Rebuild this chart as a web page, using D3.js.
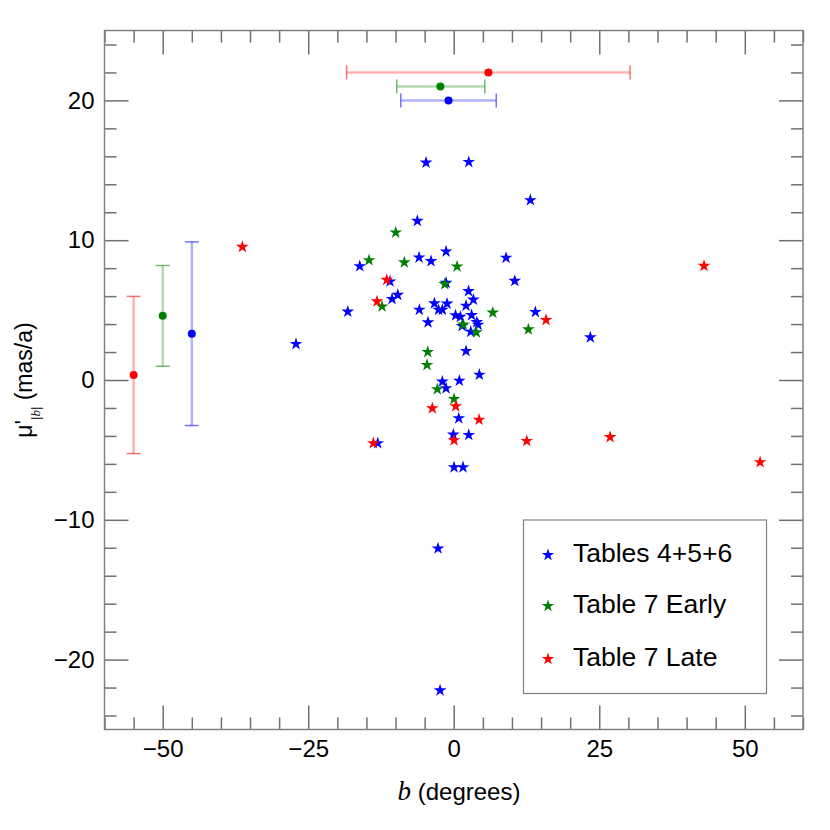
<!DOCTYPE html>
<html>
<head>
<meta charset="utf-8">
<script src="https://cdn.jsdelivr.net/npm/d3@7"></script>
<style>
  body { margin: 0; background: #fff; }
  text { font-family: "Liberation Sans", Arial, Helvetica, sans-serif; fill: #000; }
</style>
</head>
<body>
<svg id="chart" width="830" height="830"></svg>
<script>
// star points, b (degrees) vs mu' (mas/a)
var tablesB  = [-4.76, 2.58, 13.16, -6.25, -16.15, -5.96, -3.9, -1.32, 8.99, 10.48, -10.95, -1.32,
                -9.62, -10.6, -18.21, -5.91, -3.33, -1.15, -2.61, -1.96, 2.54, 3.37, 2.11, 0.31,
                1.13, 3.06, 14.02, -4.42, 1.43, 3.95, 4.18, 2.92, 2.11, 4.4, -1.96, 0.96, -1.32,
                0.86, -0.07, 2.58, -13.06, 0.05, 1.6, -27.1, 23.47, -2.7, -2.35];
var tablesMu = [15.55, 15.59, 12.86, 11.38, 8.14, 8.76, 8.5, 9.19, 8.74, 7.09, 7.05, 6.95,
                6.09, 5.79, 4.89, 5.02, 5.48, 5.46, 5.02, 5.02, 6.36, 5.75, 5.31, 4.62,
                4.52, 4.64, 4.86, 4.12, 3.86, 4.14, 3.95, 3.45, 2.07, 0.38, -0.12, -0.05, -0.59,
                -2.74, -3.91, -3.93, -4.52, -6.24, -6.24, 2.57, 3.05, -12.05, -22.2];

var earlyB  = [-9.97, -14.55, -8.49, 0.57, -1.55, -12.32, 6.7, 1.65, 3.88, 12.82, -4.47, -4.59, -2.82, 0.05];
var earlyMu = [10.55, 8.57, 8.41, 8.12, 6.86, 5.26, 4.82, 3.96, 3.41, 3.62, 2.0, 1.07, -0.66, -1.36];

var lateB  = [-36.32, -11.51, -13.18, 15.86, 43.0, -3.68, 0.34, 4.35, 0.05, -13.81, 12.54, 26.86, 52.63];
var lateMu = [9.52, 7.16, 5.62, 4.29, 8.16, -2.02, -1.88, -2.84, -4.31, -4.52, -4.36, -4.09, -5.88];

// mean values with spread, one per series
var seriesNames  = ["Tables 4+5+6", "Table 7 Early", "Table 7 Late"];
var seriesColors = ["#0000ff", "#008000", "#ff0000"];
// horizontal bars along the top (spread in b)
var hbarMu  = [20, 21, 22];
var hbarMid = [-0.9, -2.3, 5.95];
var hbarLo  = [-9.1, -9.8, -18.4];
var hbarHi  = [7.3, 5.34, 30.3];
// vertical bars on the left (spread in mu')
var vbarB   = [-45, -50, -55];
var vbarMid = [3.31, 4.6, 0.36];
var vbarLo  = [-3.26, 0.98, -5.26];
var vbarHi  = [9.88, 8.19, 5.98];

var xMajor = [-50, -25, 0, 25, 50];
var yMajor = [-20, -10, 0, 10, 20];

var svg = d3.select("#chart");
// note: don't call these "top" - clashes with window.top
var plotL = 104.5, plotR = 803, plotT = 30.5, plotB = 729.5;

var x = d3.scaleLinear().domain([-60, 60]).range([plotL, plotR]);
var y = d3.scaleLinear().domain([-25, 25]).range([plotB, plotT]);

var xMinor = d3.range(-60, 61, 5).filter(function (v) { return xMajor.indexOf(v) < 0; });
var yMinor = d3.range(-24, 25, 2).filter(function (v) { return yMajor.indexOf(v) < 0; });

var fmt = function (d) { return d3.format("d")(d); };

function styleAxis(g) {
    g.select(".domain").remove();
    g.selectAll(".tick line").attr("stroke", "#707070").attr("stroke-width", 1.5);
    g.selectAll(".tick text").style("font-size", "24px")
        .style("font-family", '"Liberation Sans", Arial, sans-serif');
}

// bottom / top
svg.append("g").attr("transform", "translate(0," + plotB + ")")
    .call(d3.axisBottom(x).tickValues(xMajor).tickSize(-24).tickPadding(10).tickFormat(fmt)).call(styleAxis);
svg.append("g").attr("transform", "translate(0," + plotB + ")")
    .call(d3.axisBottom(x).tickValues(xMinor).tickSize(-12).tickFormat("")).call(styleAxis);
svg.append("g").attr("transform", "translate(0," + plotT + ")")
    .call(d3.axisTop(x).tickValues(xMajor).tickSize(-24).tickFormat("")).call(styleAxis);
svg.append("g").attr("transform", "translate(0," + plotT + ")")
    .call(d3.axisTop(x).tickValues(xMinor).tickSize(-12).tickFormat("")).call(styleAxis);

// left / right
svg.append("g").attr("transform", "translate(" + plotL + ",0)")
    .call(d3.axisLeft(y).tickValues(yMajor).tickSize(-24).tickPadding(10).tickFormat(fmt)).call(styleAxis);
svg.append("g").attr("transform", "translate(" + plotL + ",0)")
    .call(d3.axisLeft(y).tickValues(yMinor).tickSize(-12).tickFormat("")).call(styleAxis);
svg.append("g").attr("transform", "translate(" + plotR + ",0)")
    .call(d3.axisRight(y).tickValues(yMajor).tickSize(-24).tickFormat("")).call(styleAxis);
svg.append("g").attr("transform", "translate(" + plotR + ",0)")
    .call(d3.axisRight(y).tickValues(yMinor).tickSize(-12).tickFormat("")).call(styleAxis);

// frame
svg.append("rect")
    .attr("x", plotL).attr("y", plotT)
    .attr("width", plotR - plotL).attr("height", plotB - plotT)
    .attr("fill", "none").attr("stroke", "#808080").attr("stroke-width", 1.5);

// error bars
var capHalf = 7;
var hbars = svg.append("g").selectAll("g")
    .data(d3.range(3))
    .enter().append("g");
hbars.append("line")
    .attr("x1", function (i) { return x(hbarLo[i]); })
    .attr("x2", function (i) { return x(hbarHi[i]); })
    .attr("y1", function (i) { return y(hbarMu[i]); })
    .attr("y2", function (i) { return y(hbarMu[i]); })
    .attr("stroke", function (i) { return seriesColors[i]; })
    .attr("stroke-opacity", 0.3).attr("stroke-width", 2.5);
hbars.selectAll(".cap")
    .data(function (i) { return [[hbarLo[i], i], [hbarHi[i], i]]; })
    .enter().append("line").attr("class", "cap")
    .attr("x1", function (d) { return x(d[0]); })
    .attr("x2", function (d) { return x(d[0]); })
    .attr("y1", function (d) { return y(hbarMu[d[1]]) - capHalf; })
    .attr("y2", function (d) { return y(hbarMu[d[1]]) + capHalf; })
    .attr("stroke", function (d) { return seriesColors[d[1]]; })
    .attr("stroke-opacity", 0.55).attr("stroke-width", 1.5);
hbars.append("circle")
    .attr("cx", function (i) { return x(hbarMid[i]); })
    .attr("cy", function (i) { return y(hbarMu[i]); })
    .attr("r", 4)
    .attr("fill", function (i) { return seriesColors[i]; });

var vbars = svg.append("g").selectAll("g")
    .data(d3.range(3))
    .enter().append("g");
vbars.append("line")
    .attr("x1", function (i) { return x(vbarB[i]); })
    .attr("x2", function (i) { return x(vbarB[i]); })
    .attr("y1", function (i) { return y(vbarLo[i]); })
    .attr("y2", function (i) { return y(vbarHi[i]); })
    .attr("stroke", function (i) { return seriesColors[i]; })
    .attr("stroke-opacity", 0.3).attr("stroke-width", 2.5);
vbars.selectAll(".cap")
    .data(function (i) { return [[vbarLo[i], i], [vbarHi[i], i]]; })
    .enter().append("line").attr("class", "cap")
    .attr("x1", function (d) { return x(vbarB[d[1]]) - capHalf; })
    .attr("x2", function (d) { return x(vbarB[d[1]]) + capHalf; })
    .attr("y1", function (d) { return y(d[0]); })
    .attr("y2", function (d) { return y(d[0]); })
    .attr("stroke", function (d) { return seriesColors[d[1]]; })
    .attr("stroke-opacity", 0.55).attr("stroke-width", 1.5);
vbars.append("circle")
    .attr("cx", function (i) { return x(vbarB[i]); })
    .attr("cy", function (i) { return y(vbarMid[i]); })
    .attr("r", 4)
    .attr("fill", function (i) { return seriesColors[i]; });

// stars
var star = d3.symbol().type(d3.symbolStar).size(50);
var series = [[tablesB, tablesMu], [earlyB, earlyMu], [lateB, lateMu]];
series.forEach(function (s, k) {
    svg.append("g").selectAll("path")
        .data(d3.range(s[0].length))
        .enter().append("path")
        .attr("d", star)
        .attr("transform", function (i) { return "translate(" + x(s[0][i]) + "," + y(s[1][i]) + ")"; })
        .attr("fill", seriesColors[k]);
});

// legend
var legend = svg.append("g");
legend.append("rect")
    .attr("x", 523.5).attr("y", 520).attr("width", 243).attr("height", 173.5)
    .attr("fill", "#fff").attr("stroke", "#808080").attr("stroke-width", 1.2);
var rowY = [555, 606, 659];
seriesNames.forEach(function (name, i) {
    legend.append("path").attr("d", d3.symbol().type(d3.symbolStar).size(48))
        .attr("transform", "translate(548," + rowY[i] + ")")
        .attr("fill", seriesColors[i]);
    legend.append("text")
        .attr("x", 573).attr("y", rowY[i] + 6.5)
        .style("font-size", "26.5px")
        .text(name);
});

// axis titles
var xt = svg.append("text")
    .attr("x", 459).attr("y", 800)
    .attr("text-anchor", "middle")
    .style("font-size", "24px");
xt.append("tspan")
    .style("font-family", '"Liberation Serif", "DejaVu Serif", serif')
    .style("font-style", "italic").style("font-size", "27px")
    .text("b");
xt.append("tspan").text(" (degrees)");

var yt = svg.append("text")
    .attr("transform", "translate(32,380) rotate(-90)")
    .attr("text-anchor", "middle")
    .style("font-size", "23px");
yt.append("tspan").text("μ'");
yt.append("tspan").attr("dy", 8).style("font-size", "13px").text("|");
yt.append("tspan").style("font-size", "13px")
    .style("font-family", '"Liberation Serif", "DejaVu Serif", serif')
    .style("font-style", "italic").text("b");
yt.append("tspan").style("font-size", "13px").text("|");
yt.append("tspan").attr("dy", -8).text(" (mas/a)");
</script>
</body>
</html>
